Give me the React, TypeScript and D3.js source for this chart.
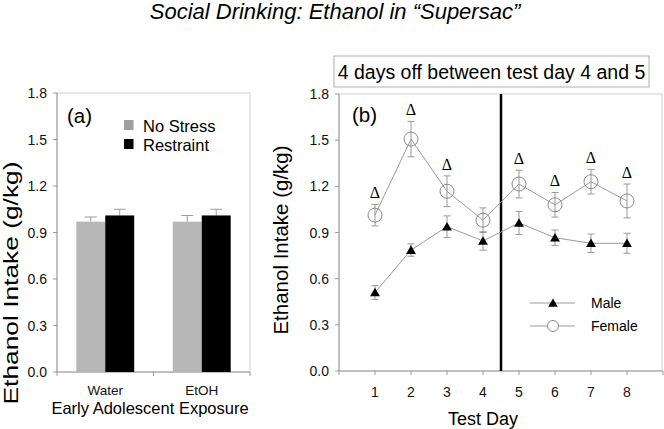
import React from "react";
import * as d3 from "d3";

// Panel (a)
const groups = ["Water", "EtOH"];
const noStressMean = [0.97, 0.97];
const noStressErr = [0.03, 0.04];
const restraintMean = [1.01, 1.01];
const restraintErr = [0.04, 0.04];

// Panel (b)
const days = [1, 2, 3, 4, 5, 6, 7, 8];
const maleMean = [0.51, 0.786, 0.938, 0.845, 0.962, 0.866, 0.83, 0.83];
const maleErr = [0.045, 0.04, 0.07, 0.06, 0.075, 0.05, 0.06, 0.065];
const femaleMean = [1.013, 1.507, 1.168, 0.98, 1.215, 1.08, 1.23, 1.105];
const femaleErr = [0.07, 0.115, 0.1, 0.08, 0.09, 0.08, 0.08, 0.11];
const sigDays = [1, 2, 3, 5, 6, 7, 8];
const yTicks = [0, 0.3, 0.6, 0.9, 1.2, 1.5, 1.8];
const xTicksB = [0, 1, 2, 3, 4, 5, 6, 7, 8, 9];
const xLabelsB = [1, 2, 3, 4, 5, 6, 7, 8];

const FONT = "'Liberation Sans', Arial, Helvetica, sans-serif";
const AXIS = "#9a9a9a";
const FRAME = "#cfcfcf";
const ERR = "#999";

export default function App() {
  // Panel a scales
  const ax0 = 57, ax1 = 250, ay0 = 372, ay1 = 93;
  const ya = d3.scaleLinear().domain([0, 1.8]).range([ay0, ay1]);
  const xa = d3.scaleBand<string>().domain(groups).range([ax0, ax1]).paddingInner(0.4).paddingOuter(0.2);
  const bw = xa.bandwidth() / 2;

  // Panel b scales
  const bx0 = 339, bx1 = 663, by0 = 371, by1 = 94;
  const yb = d3.scaleLinear().domain([0, 1.8]).range([by0, by1]);
  const xb = d3.scaleLinear().domain([0, 9]).range([bx0, bx1]);
  const line = d3.line<number>().x((_, i) => xb(days[i])).y((v) => yb(v));
  const tri = d3.symbol(d3.symbolTriangle, 42)() as string;
  const triLeg = d3.symbol(d3.symbolTriangle, 40)() as string;

  const fmt = d3.format(".1f");

  const errBar = (x: number, lo: number, hi: number, cap: number, key: string) => (
    <g key={key} stroke={ERR} strokeWidth={1}>
      <line x1={x} x2={x} y1={lo} y2={hi} />
      <line x1={x - cap} x2={x + cap} y1={hi} y2={hi} />
    </g>
  );

  return (
    <svg width={664} height={429} style={{ position: "absolute", left: 0, top: 0, background: "#fff" }} fontFamily={FONT}>
      <rect x={0} y={0} width={664} height={429} fill="#fff" />
      <text x={335} y={19} textAnchor="middle" fontSize={22} fontStyle="italic" fill="#000">
        Social Drinking: Ethanol in “Supersac”
      </text>

      {/* ===== Panel a ===== */}
      <rect x={ax0} y={ay1} width={ax1 - ax0} height={ay0 - ay1} fill="none" stroke={FRAME} />
      <line x1={ax0} x2={ax0} y1={ay1} y2={ay0} stroke={AXIS} />
      <line x1={ax0} x2={ax1} y1={ay0} y2={ay0} stroke={AXIS} />
      {yTicks.map((t) => (
        <g key={"ya" + t}>
          <line x1={ax0 - 4} x2={ax0} y1={ya(t)} y2={ya(t)} stroke={AXIS} />
          <text x={47} y={ya(t) + 5} textAnchor="end" fontSize={14} fill="#111">{fmt(t)}</text>
        </g>
      ))}
      {[ax0, (ax0 + ax1) / 2, ax1].map((x, i) => (
        <line key={"xta" + i} x1={x} x2={x} y1={ay0} y2={ay0 + 4} stroke={AXIS} />
      ))}
      {groups.map((g, i) => {
        const x = xa(g) as number;
        return (
          <g key={g}>
            {errBar(x + bw / 2, ya(noStressMean[i]), ya(noStressMean[i] + noStressErr[i]), 6, "ens" + i)}
            {errBar(x + bw * 1.5, ya(restraintMean[i]), ya(restraintMean[i] + restraintErr[i]), 6, "er" + i)}
            <rect x={x} y={ya(noStressMean[i])} width={bw} height={ay0 - ya(noStressMean[i])} fill="#b7b7b7" />
            <rect x={x + bw} y={ya(restraintMean[i])} width={bw} height={ay0 - ya(restraintMean[i])} fill="#000" />
            <text x={x + bw} y={395} textAnchor="middle" fontSize={13.5} fill="#111">{g}</text>
          </g>
        );
      })}
      <text x={67} y={123} fontSize={20.5} fill="#000">(a)</text>
      <rect x={124} y={120} width={9.5} height={10} fill="#a0a0a0" />
      <rect x={124} y={139} width={9.5} height={10} fill="#000" />
      <text x={143} y={132} fontSize={16.5} fill="#000">No Stress</text>
      <text x={143} y={151} fontSize={16.5} fill="#000">Restraint</text>
      <text x={150} y={414} textAnchor="middle" fontSize={16.5} fill="#000">Early Adolescent Exposure</text>
      <text transform="translate(18,283) rotate(-90)" textAnchor="middle" fontSize={19.5} fill="#000"
        textLength={243} lengthAdjust="spacingAndGlyphs">
        Ethanol Intake (g/kg)
      </text>

      {/* ===== Panel b ===== */}
      <rect x={334} y={56} width={315} height={31} fill="#fff" stroke="#b0b0b0" />
      <text x={491.5} y={79} textAnchor="middle" fontSize={19.5} fill="#000">4 days off between test day 4 and 5</text>

      <rect x={bx0} y={by1} width={bx1 - bx0 - 1} height={by0 - by1} fill="none" stroke={FRAME} />
      <line x1={bx0} x2={bx0} y1={by1} y2={by0} stroke={AXIS} />
      <line x1={bx0} x2={bx1} y1={by0} y2={by0} stroke={AXIS} />
      {yTicks.map((t) => (
        <g key={"yb" + t}>
          <line x1={bx0 - 4} x2={bx0} y1={yb(t)} y2={yb(t)} stroke={AXIS} />
          <text x={329} y={yb(t) + 5} textAnchor="end" fontSize={14} fill="#111">{fmt(t)}</text>
        </g>
      ))}
      {xTicksB.map((t) => (
        <line key={"xtb" + t} x1={xb(t)} x2={xb(t)} y1={by0} y2={by0 + 4} stroke={AXIS} />
      ))}
      {xLabelsB.map((t) => (
        <text key={"xlb" + t} x={xb(t)} y={397} textAnchor="middle" fontSize={14} fill="#111">{t}</text>
      ))}
      <text x={483} y={425} textAnchor="middle" fontSize={18} fill="#000">Test Day</text>
      <text transform="translate(288,240) rotate(-90)" textAnchor="middle" fontSize={20.5} fill="#000">
        Ethanol Intake (g/kg)
      </text>
      <text x={352} y={122} fontSize={20.5} fill="#000">(b)</text>

      <line x1={xb(4.5)} x2={xb(4.5)} y1={by1} y2={by0} stroke="#000" strokeWidth={2.5} />

      {/* female */}
      <path d={line(femaleMean) as string} fill="none" stroke="#9a9a9a" strokeWidth={1} />
      {days.map((d, i) => (
        <g key={"fe" + d} stroke={ERR} strokeWidth={1}>
          <line x1={xb(d)} x2={xb(d)} y1={yb(femaleMean[i] - femaleErr[i])} y2={yb(femaleMean[i] + femaleErr[i])} />
          <line x1={xb(d) - 3.5} x2={xb(d) + 3.5} y1={yb(femaleMean[i] + femaleErr[i])} y2={yb(femaleMean[i] + femaleErr[i])} />
          <line x1={xb(d) - 3.5} x2={xb(d) + 3.5} y1={yb(femaleMean[i] - femaleErr[i])} y2={yb(femaleMean[i] - femaleErr[i])} />
        </g>
      ))}
      {days.map((d, i) => (
        <circle key={"fc" + d} cx={xb(d)} cy={yb(femaleMean[i])} r={7} fill="none" stroke="#8a8a8a" strokeWidth={1} />
      ))}

      {/* male */}
      <path d={line(maleMean) as string} fill="none" stroke="#9a9a9a" strokeWidth={1} />
      {days.map((d, i) => (
        <g key={"me" + d} stroke={ERR} strokeWidth={1}>
          <line x1={xb(d)} x2={xb(d)} y1={yb(maleMean[i] - maleErr[i])} y2={yb(maleMean[i] + maleErr[i])} />
          <line x1={xb(d) - 3.5} x2={xb(d) + 3.5} y1={yb(maleMean[i] + maleErr[i])} y2={yb(maleMean[i] + maleErr[i])} />
          <line x1={xb(d) - 3.5} x2={xb(d) + 3.5} y1={yb(maleMean[i] - maleErr[i])} y2={yb(maleMean[i] - maleErr[i])} />
        </g>
      ))}
      {days.map((d, i) => (
        <path key={"mt" + d} d={tri} transform={`translate(${xb(d)},${yb(maleMean[i]) + 1})`} fill="#000" />
      ))}

      {/* significance markers */}
      {sigDays.map((d) => {
        const i = days.indexOf(d);
        return (
          <text key={"sig" + d} x={xb(d)} y={yb(femaleMean[i] + femaleErr[i]) - 6} textAnchor="middle"
            fontSize={16} fontFamily="'Liberation Serif', 'Times New Roman', serif" fill="#000">Δ</text>
        );
      })}

      {/* legend b */}
      <line x1={530} x2={575} y1={303} y2={303} stroke="#9a9a9a" />
      <path d={triLeg} transform="translate(553,304)" fill="#000" />
      <line x1={530} x2={575} y1={326} y2={326} stroke="#9a9a9a" />
      <circle cx={553} cy={326} r={5.5} fill="#fff" stroke="#8a8a8a" />
      <text x={591} y={308} fontSize={14} fill="#000">Male</text>
      <text x={591} y={331} fontSize={14} fill="#000">Female</text>
    </svg>
  );
}
